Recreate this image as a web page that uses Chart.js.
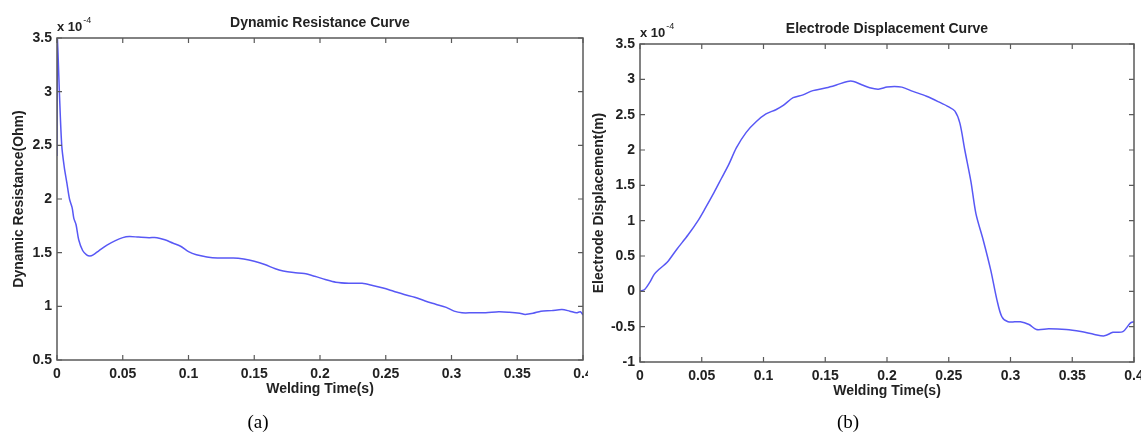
<!DOCTYPE html>
<html>
<head>
<meta charset="utf-8">
<script src="https://cdn.jsdelivr.net/npm/chart.js@4"></script>
<style>
    body { margin: 0; background: #fff; width: 1141px; height: 433px; position: relative; overflow: hidden; }
    .box { position: absolute; top: 0; height: 433px; }
</style>
</head>
<body>
<div class="box" style="left:0;width:588px"><canvas id="ResistanceChart"></canvas></div>
<div class="box" style="left:588px;width:553px"><canvas id="DisplacementChart"></canvas></div>
<script>
// (a) dynamic resistance, values in 1e-4 Ohm
var timeA = [0, 0.0003, 0.0008, 0.0018, 0.0036, 0.0055, 0.0075, 0.0095, 0.0115, 0.0128,
    0.0145, 0.0165, 0.0195, 0.0225, 0.025, 0.0275, 0.032, 0.038, 0.044, 0.05,
    0.055, 0.062, 0.07, 0.076, 0.082, 0.088, 0.094, 0.1, 0.106, 0.114,
    0.122, 0.134, 0.142, 0.15, 0.158, 0.166, 0.172, 0.18, 0.188, 0.196,
    0.204, 0.212, 0.222, 0.232, 0.24, 0.248, 0.256, 0.264, 0.272, 0.28,
    0.288, 0.296, 0.302, 0.308, 0.316, 0.326, 0.336, 0.344, 0.352, 0.356,
    0.362, 0.368, 0.376, 0.384, 0.39, 0.395, 0.398, 0.4];
var resistance = [2.4, 3.5, 3.35, 3.0, 2.5, 2.3, 2.15, 2.0, 1.92, 1.82,
    1.76, 1.62, 1.52, 1.48, 1.47, 1.48, 1.52, 1.57, 1.61, 1.64,
    1.65, 1.645, 1.64, 1.64, 1.62, 1.59, 1.56, 1.51, 1.48, 1.46,
    1.45, 1.45, 1.44, 1.42, 1.39, 1.35, 1.33, 1.315, 1.305, 1.28,
    1.25, 1.225, 1.215, 1.215, 1.195, 1.17, 1.14, 1.11, 1.085, 1.05,
    1.02, 0.99, 0.955, 0.94, 0.94, 0.94, 0.95, 0.945, 0.935, 0.925,
    0.935, 0.955, 0.96, 0.97, 0.955, 0.94, 0.95, 0.92];

// (b) electrode displacement, values in 1e-4 m
var timeB = [0, 0.004, 0.008, 0.0115, 0.016, 0.022, 0.03, 0.039, 0.047, 0.053,
    0.06, 0.066, 0.072, 0.078, 0.086, 0.094, 0.102, 0.11, 0.116, 0.124,
    0.132, 0.14, 0.151, 0.159, 0.168, 0.173, 0.18, 0.186, 0.193, 0.2,
    0.206, 0.212, 0.221, 0.232, 0.242, 0.25, 0.255, 0.259, 0.263, 0.268,
    0.272, 0.278, 0.284, 0.289, 0.293, 0.298, 0.308, 0.315, 0.321, 0.331,
    0.345, 0.357, 0.368, 0.376, 0.383, 0.391, 0.397, 0.4];
var displacement = [0, 0.03, 0.13, 0.24, 0.32, 0.41, 0.6, 0.8, 1.0, 1.18,
    1.4, 1.6, 1.8, 2.03, 2.25, 2.4, 2.51, 2.57, 2.63, 2.74,
    2.78, 2.84, 2.88, 2.92, 2.97, 2.97, 2.92, 2.88, 2.86, 2.89,
    2.9, 2.89, 2.83, 2.76, 2.68, 2.61, 2.55, 2.38, 2.0, 1.55,
    1.1, 0.72, 0.3, -0.12, -0.36, -0.43, -0.43, -0.47, -0.54, -0.53,
    -0.54, -0.57, -0.61, -0.63, -0.58, -0.57, -0.45, -0.43];

var timeRange = [0, 0.4];
var resistanceRange = [0.5, 3.5];
var displacementRange = [-1, 3.5];

var FONT = '"Liberation Sans", Arial, sans-serif';
var LINE_COLOR = 'rgb(88, 88, 245)';
var AXIS_COLOR = '#5a5a5a';

function toPoints(xs, ys) {
    var pts = [];
    for (let i = 0; i < xs.length; i++) {
        pts.push({ x: xs[i], y: ys[i] });
    }
    return pts;
}

function fmt(v) {
    return String(+v.toFixed(3));
}

// matlab style box, inward ticks, title, exponent and the (a)/(b) caption
var matlabFrame = {
    id: 'matlabFrame',
    afterDraw(chart, args, opts) {
        var c = chart.ctx;
        var a = chart.chartArea;
        var xs = chart.scales.x, ys = chart.scales.y;
        c.save();
        c.strokeStyle = AXIS_COLOR;
        c.lineWidth = 1.5;
        c.strokeRect(a.left, a.top, a.right - a.left, a.bottom - a.top);
        c.lineWidth = 1.2;
        c.beginPath();
        xs.ticks.forEach(t => {
            var px = xs.getPixelForValue(t.value);
            c.moveTo(px, a.bottom); c.lineTo(px, a.bottom - 5);
            c.moveTo(px, a.top); c.lineTo(px, a.top + 5);
        });
        ys.ticks.forEach(t => {
            var py = ys.getPixelForValue(t.value);
            c.moveTo(a.left, py); c.lineTo(a.left + 5, py);
            c.moveTo(a.right, py); c.lineTo(a.right - 5, py);
        });
        c.stroke();

        // title
        c.fillStyle = '#222';
        c.textAlign = 'center';
        c.textBaseline = 'middle';
        c.font = 'bold 14px ' + FONT;
        c.fillText(opts.title, (a.left + a.right) / 2, a.top - 15);

        // x 10^-4
        c.textAlign = 'left';
        c.textBaseline = 'alphabetic';
        c.font = 'bold 13px ' + FONT;
        c.fillText('x 10', a.left, a.top - 7);
        var w = c.measureText('x 10').width;
        c.font = '9px ' + FONT;
        c.fillText('-4', a.left + w + 1, a.top - 15);

        // caption
        c.font = '19px "Liberation Serif", "Times New Roman", serif';
        c.textAlign = 'center';
        c.textBaseline = 'middle';
        c.fillStyle = '#000';
        c.fillText(opts.caption, opts.captionX, 423);
        c.restore();
    }
};

function makeChart(id, xs, ys, yRange, yTitle, title, caption, captionX, box) {
    var ctx = document.getElementById(id);
    return new Chart(ctx, {
        type: 'line',
        plugins: [matlabFrame],
        data: {
            datasets: [{
                data: toPoints(xs, ys),
                borderColor: LINE_COLOR,
                borderWidth: 1.5,
                pointRadius: 0,
                tension: 0.3,
                fill: false
            }]
        },
        options: {
            responsive: false,
            animation: false,
            devicePixelRatio: 1,
            layout: { padding: { left: 0, top: box.top, right: box.right, bottom: 0 } },
            plugins: {
                legend: { display: false },
                tooltip: { enabled: false },
                matlabFrame: { title: title, caption: caption, captionX: captionX }
            },
            scales: {
                x: {
                    type: 'linear',
                    min: timeRange[0],
                    max: timeRange[1],
                    grid: { display: false, drawTicks: false },
                    border: { display: false },
                    ticks: {
                        stepSize: 0.05,
                        autoSkip: false,
                        maxRotation: 0,
                        padding: 6,
                        color: '#222',
                        font: { family: FONT, size: 14, weight: 'bold' },
                        callback: fmt
                    },
                    title: {
                        display: true,
                        text: 'Welding Time(s)',
                        color: '#222',
                        font: { family: FONT, size: 14, weight: 'bold' },
                        padding: { top: 0, bottom: box.xTitlePad }
                    },
                    afterFit(scale) {
                        scale.height = box.xHeight;
                        // the last label may hang over the edge, like in the original
                        scale.paddingLeft = 0;
                        scale.paddingRight = 0;
                    }
                },
                y: {
                    min: yRange[0],
                    max: yRange[1],
                    grid: { display: false, drawTicks: false },
                    border: { display: false },
                    ticks: {
                        stepSize: 0.5,
                        padding: 5,
                        color: '#222',
                        font: { family: FONT, size: 14, weight: 'bold' },
                        callback: fmt
                    },
                    title: {
                        display: true,
                        text: yTitle,
                        color: '#222',
                        font: { family: FONT, size: 14, weight: 'bold' },
                        padding: { top: box.yTitlePad, bottom: 0 }
                    },
                    afterFit(scale) {
                        scale.width = box.yWidth;
                        scale.paddingTop = 0;
                        scale.paddingBottom = 0;
                    }
                }
            }
        }
    });
}

document.getElementById('ResistanceChart').width = 588;
document.getElementById('ResistanceChart').height = 433;
document.getElementById('DisplacementChart').width = 553;
document.getElementById('DisplacementChart').height = 433;

makeChart('ResistanceChart', timeA, resistance, resistanceRange,
    'Dynamic Resistance(Ohm)', 'Dynamic Resistance Curve', '(a)', 258,
    { top: 38, right: 5, xHeight: 73, yWidth: 57, xTitlePad: 35, yTitlePad: 11 });

makeChart('DisplacementChart', timeB, displacement, displacementRange,
    'Electrode Displacement(m)', 'Electrode Displacement Curve', '(b)', 260,
    { top: 44, right: 7, xHeight: 71, yWidth: 52, xTitlePad: 33, yTitlePad: 3 });
</script>
</body>
</html>
